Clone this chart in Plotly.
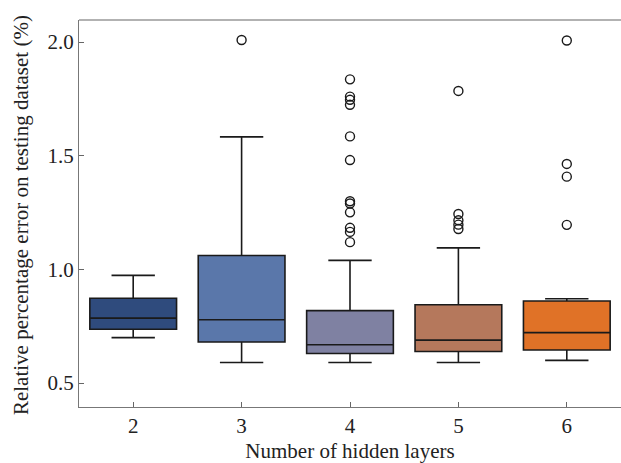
import plotly.graph_objects as go

# Box statistics per number of hidden layers
layers = [2, 3, 4, 5, 6]
lower_whisker = [0.700, 0.591, 0.591, 0.591, 0.600]
q1_vals = [0.737, 0.681, 0.630, 0.639, 0.646]
median_vals = [0.786, 0.779, 0.669, 0.689, 0.722]
q3_vals = [0.873, 1.061, 0.819, 0.845, 0.861]
upper_whisker = [0.974, 1.583, 1.040, 1.095, 0.871]
box_colors = ["#2f4b7d", "#5a77aa", "#7f81a2", "#b5785c", "#e07227"]

# Outlying runs
outliers = {
    2: [],
    3: [2.009],
    4: [1.836, 1.760, 1.746, 1.724, 1.585, 1.481, 1.300, 1.290, 1.251, 1.183, 1.165, 1.120],
    5: [1.785, 1.244, 1.216, 1.197, 1.178],
    6: [2.007, 1.464, 1.408, 1.196],
}

fig = go.Figure()

for i, n in enumerate(layers):
    fig.add_trace(go.Box(
        x=[n],
        q1=[q1_vals[i]],
        median=[median_vals[i]],
        q3=[q3_vals[i]],
        lowerfence=[lower_whisker[i]],
        upperfence=[upper_whisker[i]],
        width=0.8,
        whiskerwidth=0.5,
        fillcolor=box_colors[i],
        line=dict(color="#1a1a1a", width=1.6),
        boxpoints=False,
        showlegend=False,
        hoverinfo="skip",
    ))

ox, oy = [], []
for n in layers:
    for v in outliers[n]:
        ox.append(n)
        oy.append(v)

fig.add_trace(go.Scatter(
    x=ox, y=oy, mode="markers",
    marker=dict(symbol="circle-open", size=9, color="#1a1a1a", line=dict(width=1.4)),
    showlegend=False, hoverinfo="skip",
))

serif = "Liberation Serif, Times New Roman, serif"

fig.update_layout(
    width=621, height=463,
    margin=dict(l=79, r=0, t=20, b=56),
    paper_bgcolor="white", plot_bgcolor="white",
    font=dict(family=serif, size=21, color="#222"),
    xaxis=dict(
        range=[1.5, 6.5], tickmode="array", tickvals=layers,
        ticktext=[str(n) for n in layers],
        ticks="inside", ticklen=5, tickcolor="#666", tickwidth=1,
        showline=True, linecolor="#777", linewidth=1.3,
        showgrid=False, zeroline=False,
        title=dict(text="Number of hidden layers", font=dict(size=21), standoff=6),
        tickfont=dict(size=21),
    ),
    yaxis=dict(
        range=[0.395, 2.097], tickmode="array", tickvals=[0.5, 1.0, 1.5, 2.0],
        ticktext=["0.5", "1.0", "1.5", "2.0"],
        ticks="inside", ticklen=5, tickcolor="#666", tickwidth=1,
        showline=True, linecolor="#777", linewidth=1.3,
        showgrid=False, zeroline=False,
        tickfont=dict(size=21),
    ),
)

# Vertical axis title placed as rotated text left of the tick labels
fig.add_annotation(
    text="Relative percentage error on testing dataset (%)",
    xref="paper", yref="paper", x=-0.107, y=0.496,
    xanchor="center", yanchor="middle", textangle=-90,
    showarrow=False, font=dict(family=serif, size=21, color="#222"),
)

# Top frame line
fig.add_shape(type="line", xref="paper", yref="paper", x0=0, x1=1, y0=1, y1=1,
              line=dict(color="#999", width=1.3))

fig.write_html(
    "out.html",
    post_script="document.body.style.margin='0';"
                "document.body.style.overflow='hidden';"
                "document.documentElement.style.overflow='hidden';",
)
